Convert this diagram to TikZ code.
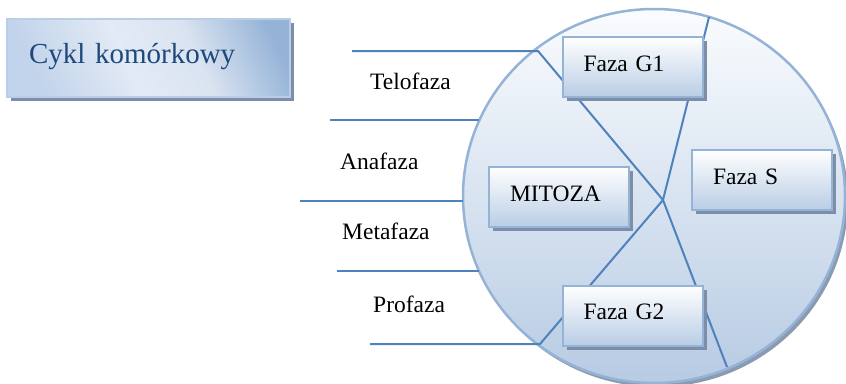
\documentclass[tikz,border=0pt]{standalone}
\usepackage{fontspec}
\setmainfont{Liberation Serif}
\usetikzlibrary{shapes.geometric,shadows}
\definecolor{lineblue}{HTML}{4F81BD}
\definecolor{boxborder}{HTML}{95B3D7}
\definecolor{boxbottom}{HTML}{B9CDE5}
\definecolor{shadowc}{HTML}{7D8FA8}
\definecolor{circtop}{HTML}{FAFCFE}
\definecolor{circbottom}{HTML}{B7CBE3}
\definecolor{titletext}{HTML}{1F497D}
\definecolor{tA}{HTML}{C2D4EB}
\definecolor{tB}{HTML}{E2EAF5}
\definecolor{tC}{HTML}{DAE4F1}
\definecolor{tD}{HTML}{95B3D7}
\pgfdeclarehorizontalshading{titleshade}{100bp}{color(0bp)=(tA); color(25bp)=(tA); color(45bp)=(tB); color(60bp)=(tC); color(78bp)=(tD); color(100bp)=(tD)}
\begin{document}
\begin{tikzpicture}[x=1pt,y=-1pt,
  conn/.style={draw=lineblue,line width=2pt},
  phasebox/.style={rectangle,draw=boxborder,line width=2pt,top color=white,bottom color=boxbottom,
    minimum width=140pt,minimum height=60pt,text width=98pt,align=left,inner xsep=21pt,inner ysep=0pt,
    text height=16pt,text depth=8pt,font=\fontsize{23.5}{28}\selectfont,
    drop shadow={shadow xshift=4pt,shadow yshift=-4pt,fill=shadowc,opacity=1}},
  stagelabel/.style={anchor=base west,inner sep=0pt,font=\fontsize{23.5}{28}\selectfont}]
\useasboundingbox (0,0) rectangle (846,383);
% cell circle
\node[ellipse,minimum width=382pt,minimum height=374pt,inner sep=0pt,draw=boxborder,line width=2.5pt,
  top color=circtop,bottom color=circbottom,
  drop shadow={shadow xshift=3pt,shadow yshift=-4pt,fill=shadowc,opacity=0.9}] (cell) at (654,196) {};
% coordinates
\coordinate (cross) at (663,200);
\coordinate (a0) at (352,51);
\coordinate (a1) at (538,51);
\coordinate (a2) at (727,367);
\coordinate (b0) at (709,17);
\coordinate (b2) at (540,344);
\coordinate (b3) at (370,344);
\coordinate (h1l) at (330,120);
\coordinate (h1r) at (479,120);
\coordinate (h2l) at (300,201);
\coordinate (h2r) at (463,201);
\coordinate (h3l) at (337,271);
\coordinate (h3r) at (479,271);
% connectors
\draw[conn] (a0) -- (a1) -- (cross) -- (a2);
\draw[conn] (b0) -- (cross) -- (b2) -- (b3);
\draw[conn] (h1l) -- (h1r);
\draw[conn] (h2l) -- (h2r);
\draw[conn] (h3l) -- (h3r);
% boxes
\node[phasebox] (g1) at (632.5,67) {Faza G1};
\node[phasebox] (s) at (762,180) {Faza S};
\node[phasebox] (mit) at (559,197) {MITOZA};
\node[phasebox] (g2) at (632.5,315.5) {Faza G2};
% title
\node[rectangle,draw=boxbottom,line width=2pt,shading=titleshade,shading angle=25,
  minimum width=283pt,minimum height=78pt,text width=239pt,align=left,inner xsep=22pt,inner ysep=0pt,
  text height=19pt,text depth=9pt,text=titletext,font=\fontsize{29}{34}\selectfont,
  drop shadow={shadow xshift=4pt,shadow yshift=-4pt,fill=shadowc,opacity=1}] (title) at (148.5,58) {Cykl komórkowy};
% stage labels
\node[stagelabel] (telo) at (370,89) {Telofaza};
\node[stagelabel] (ana) at (340,169) {Anafaza};
\node[stagelabel] (meta) at (342,239) {Metafaza};
\node[stagelabel] (pro) at (373,312) {Profaza};
\end{tikzpicture}
\end{document}
